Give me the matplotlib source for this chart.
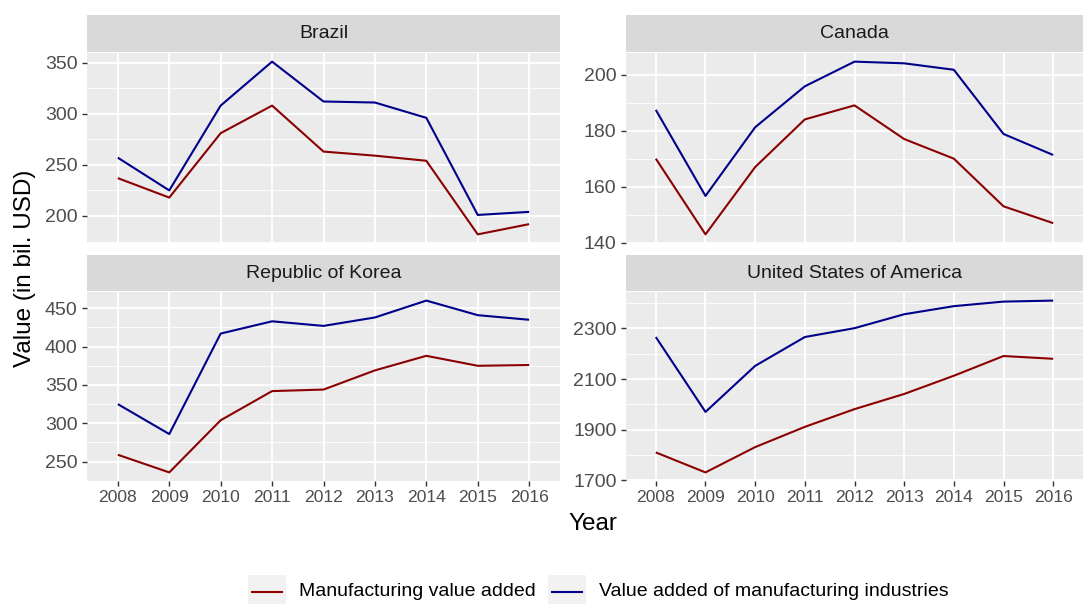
import matplotlib
matplotlib.use("Agg")
import matplotlib.pyplot as plt
import numpy as np
from matplotlib.ticker import MultipleLocator
from matplotlib.lines import Line2D
from matplotlib.patches import Rectangle

plt.rcParams['font.family'] = ['Liberation Sans', 'DejaVu Sans']

years = [2008, 2009, 2010, 2011, 2012, 2013, 2014, 2015, 2016]
countries = ["Brazil", "Canada", "Republic of Korea", "United States of America"]

brazil_mva = [237, 218, 281, 308, 263, 259, 254, 182, 192]
brazil_vam = [257, 225, 308, 351, 312, 311, 296, 201, 204]
canada_mva = [170, 143, 167, 184, 189, 177, 170, 153, 147]
canada_vam = [187.4, 156.7, 181.2, 195.8, 204.6, 204, 201.7, 178.8, 171.3]
korea_mva = [259, 236, 304, 342, 344, 369, 388, 375, 376]
korea_vam = [325, 286, 417, 433, 427, 438, 460, 441, 435]
usa_mva = [1810, 1731, 1831, 1911, 1981, 2041, 2113, 2191, 2180]
usa_vam = [2266, 1970, 2152, 2266, 2301, 2356, 2388, 2406, 2410]

mva_series = [brazil_mva, canada_mva, korea_mva, usa_mva]
vam_series = [brazil_vam, canada_vam, korea_vam, usa_vam]
y_major = [50, 20, 50, 200]
y_offset = [0, 0, 0, 100]

series_labels = ["Manufacturing value added", "Value added of manufacturing industries"]
colors = ["#8B0000", "#00008B"]

W, H = 1089, 604
fig = plt.figure(figsize=(W / 100, H / 100), dpi=100)

cols = [(87, 560), (626, 1083)]
rows = [(53, 243, 15), (292, 481, 255)]

def frac_box(l, r, t, b):
    return [l / W, 1 - b / H, (r - l) / W, (b - t) / H]

tick_col = "#4D4D4D"
for i, name in enumerate(countries):
    rr, cc = divmod(i, 2)
    l, r = cols[cc]
    t, b, st = rows[rr]
    ax = fig.add_axes(frac_box(l, r, t, b))
    sax = fig.add_axes(frac_box(l, r, st, t - 1))
    sax.set_facecolor("#D9D9D9")
    sax.set_xticks([]); sax.set_yticks([])
    for s in sax.spines.values():
        s.set_visible(False)
    sax.text(0.5, 0.5, name, ha="center", va="center", fontsize=14, color="#1A1A1A",
             transform=sax.transAxes)

    ax.set_facecolor("#EBEBEB")
    for s in ax.spines.values():
        s.set_visible(False)
    mva = mva_series[i]; vam = vam_series[i]
    ax.plot(years, mva, color=colors[0], lw=1.5, solid_capstyle="butt", zorder=3)
    ax.plot(years, vam, color=colors[1], lw=1.5, solid_capstyle="butt", zorder=3)
    lo = min(min(mva), min(vam)); hi = max(max(mva), max(vam))
    pad = (hi - lo) * 0.05
    ax.set_ylim(lo - pad, hi + pad)
    ax.set_xlim(2008 - 0.6, 2016 + 0.6)
    m = y_major[i]
    ax.yaxis.set_major_locator(MultipleLocator(m, offset=y_offset[i]))
    ax.yaxis.set_minor_locator(MultipleLocator(m / 2))
    ax.set_xticks(years)
    ax.grid(which="major", color="white", lw=1.3, zorder=1)
    ax.grid(which="minor", axis="y", color="white", lw=0.6, zorder=1)
    ax.tick_params(which="major", length=3.8, width=1, color="#333333", labelcolor=tick_col,
                   pad=3)
    ax.tick_params(axis="y", labelsize=14)
    ax.tick_params(axis="x", labelsize=12.6)
    ax.tick_params(which="minor", length=0)
    if rr == 0:
        ax.tick_params(axis="x", labelbottom=False, length=0)
    ax.set_axisbelow(True)

fig.text(25 / W, 1 - 268 / H, "Value (in bil. USD)", rotation=90, ha="center", va="center",
         fontsize=17.5, color="black")
fig.text(593 / W, 1 - 524 / H, "Year", ha="center", va="center", fontsize=17.5, color="black")

# legend (manual, ggplot-style keys)
key_left = [248, 548]
key_w, key_top, key_bot = 38, 575, 604
for k, (lab, c) in enumerate(zip(series_labels, colors)):
    x0 = key_left[k]
    fig.add_artist(Rectangle((x0 / W, 1 - key_bot / H), key_w / W, (key_bot - key_top) / H,
                             transform=fig.transFigure, facecolor="#F2F2F2", edgecolor="none"))
    yc = 1 - 591.5 / H
    fig.add_artist(Line2D([(x0 + 4) / W, (x0 + key_w - 4) / W], [yc, yc],
                          transform=fig.transFigure, color=c, lw=1.5))
    fig.text((x0 + key_w + 13) / W, yc, lab, ha="left", va="center", fontsize=14,
             color="black")

fig.savefig("out.png", dpi=100)
